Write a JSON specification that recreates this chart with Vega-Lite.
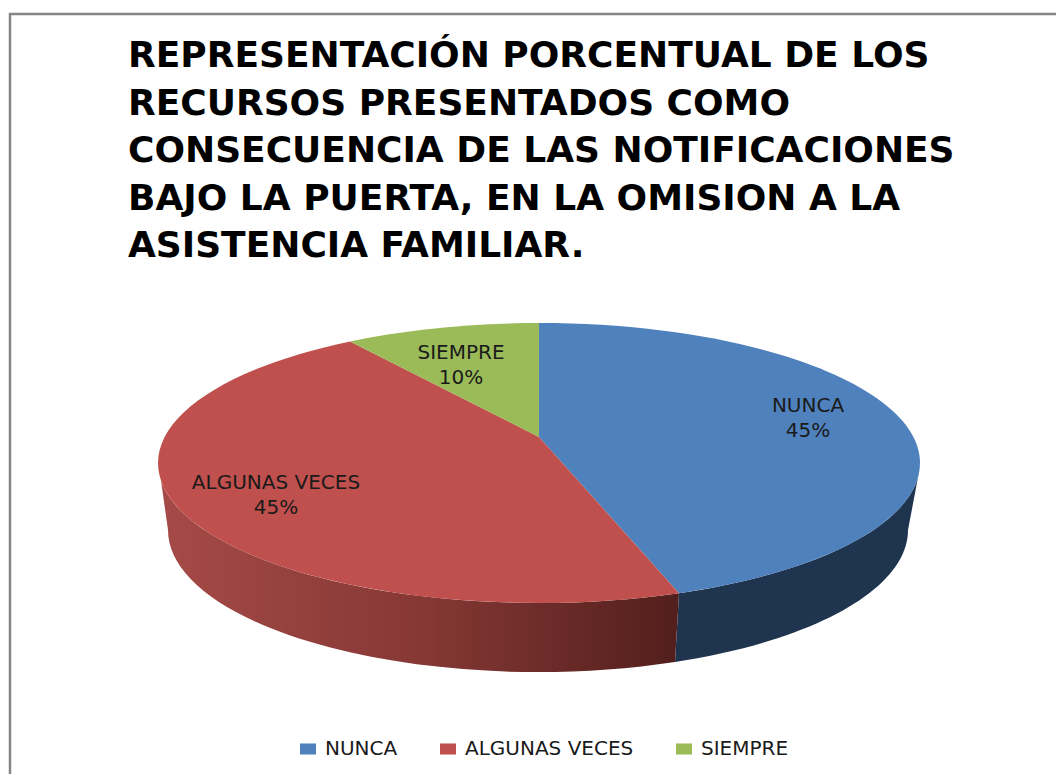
{
"$schema":"https://vega.github.io/schema/vega-lite/v6.json",
"width":1060,"height":780,
"autosize":{"type":"none"},
"padding":{"left":10,"top":14,"right":0,"bottom":0},
"background":"white",
"view":{"stroke":"#868686","strokeWidth":2.5},
"title":{"text":["REPRESENTACIÓN PORCENTUAL DE LOS","RECURSOS PRESENTADOS  COMO","CONSECUENCIA DE LAS NOTIFICACIONES","BAJO LA PUERTA, EN LA OMISION A LA","ASISTENCIA FAMILIAR."],
"anchor":"start","frame":"group","orient":"top","align":"left","baseline":"alphabetic","font":"DejaVu Sans","fontWeight":"bold","fontSize":36,"lineHeight":47.5,"color":"#000000","offset":0,"dx":118,"dy":279},
"data":{"values":[{"categoria":"NUNCA","porcentaje":45},{"categoria":"ALGUNAS VECES","porcentaje":45},{"categoria":"SIEMPRE","porcentaje":10}]},
"transform":[{"calculate":"datum.categoria + '\\n' + datum.porcentaje + '%'","as":"etiqueta"}],
"layer":[
{"mark":{"type":"point","filled":true,"size":4,"opacity":1},
 "encoding":{
  "color":{"field":"categoria","type":"nominal",
   "scale":{"domain":["NUNCA","ALGUNAS VECES","SIEMPRE"],"range":["#4f81bd","#c0504d","#9bbb59"]},
   "legend":{"title":null,"orient":"none","legendX":288,"legendY":725,"direction":"horizontal","columns":3,"columnPadding":40,"symbolType":"M-1,-0.69H1V0.69H-1Z","symbolSize":256,"symbolStrokeWidth":0,"labelFont":"DejaVu Sans","labelFontSize":20,"labelColor":"#1a1a1a","labelOffset":7,"labelLimit":300}}}},
{"transform":[{"filter":"datum.categoria === 'NUNCA'"}],
 "mark":{"type":"point","filled":true,"size":4,"xOffset":-1,"yOffset":59,"opacity":1,"fill":"#1f344e","strokeWidth":0},
 "encoding":{"shape":{"value":"M140,130.2 A381,140 0 0 0 379,14.3 L369,67 A370,142 0 0 1 136,199 Z"}}},
{"transform":[{"filter":"datum.categoria === 'ALGUNAS VECES'"}],
 "mark":{"type":"point","filled":true,"size":4,"xOffset":-1,"yOffset":59,"opacity":1,"strokeWidth":0,
  "fill":{"gradient":"linear","x1":0,"y1":0,"x2":1,"y2":0,"stops":[{"offset":0,"color":"#a54a47"},{"offset":0.5,"color":"#863835"},{"offset":1,"color":"#521f1c"}]}},
 "encoding":{"shape":{"value":"M140,130.2 A381,140 0 0 1 -378,17.5 L-371,67 A370,142 0 0 0 136,199 Z"}}},
{"transform":[{"filter":"datum.categoria === 'NUNCA'"}],
 "mark":{"type":"point","filled":true,"size":4,"xOffset":-1,"yOffset":59,"opacity":1,"strokeWidth":0,"fill":"#4f81bd"},
 "encoding":{"shape":{"value":"M0,-26 L0,-140 A381,140 0 0 1 381,0 A381,140 0 0 1 140,130.2 Z"}}},
{"transform":[{"filter":"datum.categoria === 'ALGUNAS VECES'"}],
 "mark":{"type":"point","filled":true,"size":4,"xOffset":-1,"yOffset":59,"opacity":1,"strokeWidth":0,"fill":"#c0504d"},
 "encoding":{"shape":{"value":"M0,-26 L140,130.2 A381,140 0 0 1 -381,0 A381,140 0 0 1 -189,-121.56 Z"}}},
{"transform":[{"filter":"datum.categoria === 'SIEMPRE'"}],
 "mark":{"type":"point","filled":true,"size":4,"xOffset":-1,"yOffset":59,"opacity":1,"strokeWidth":0,"fill":"#9bbb59"},
 "encoding":{"shape":{"value":"M0,-26 L-189,-121.56 A381,140 0 0 1 0,-140 Z"}}},
{"transform":[{"filter":"datum.categoria === 'NUNCA'"}],
 "mark":{"type":"text","font":"DejaVu Sans","fontSize":20,"color":"#1a1a1a","align":"center","baseline":"middle","lineBreak":"\n","lineHeight":25,"dx":268,"dy":2},
 "encoding":{"text":{"field":"etiqueta"}}},
{"transform":[{"filter":"datum.categoria === 'ALGUNAS VECES'"}],
 "mark":{"type":"text","font":"DejaVu Sans","fontSize":20,"color":"#1a1a1a","align":"center","baseline":"middle","lineBreak":"\n","lineHeight":25,"dx":-264,"dy":79},
 "encoding":{"text":{"field":"etiqueta"}}},
{"transform":[{"filter":"datum.categoria === 'SIEMPRE'"}],
 "mark":{"type":"text","font":"DejaVu Sans","fontSize":20,"color":"#1a1a1a","align":"center","baseline":"middle","lineBreak":"\n","lineHeight":25,"dx":-79,"dy":-51},
 "encoding":{"text":{"field":"etiqueta"}}}
]
}
